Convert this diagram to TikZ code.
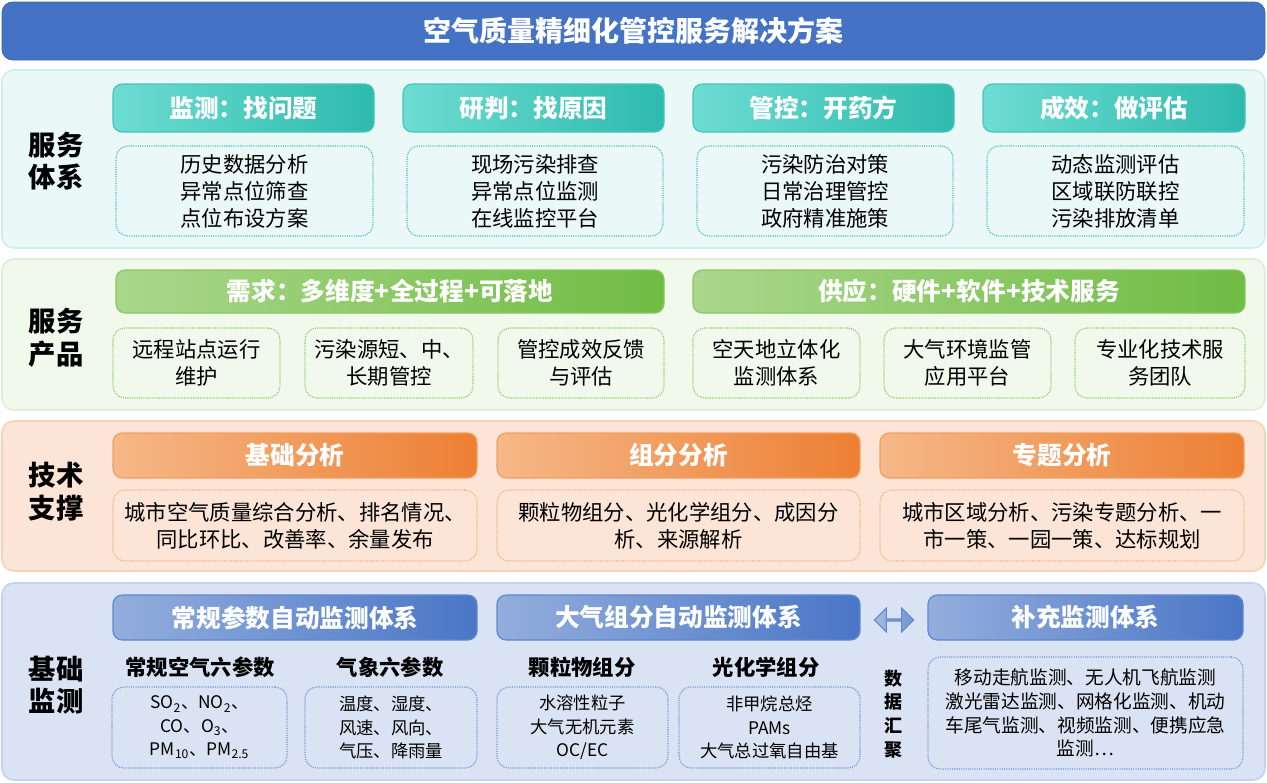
\documentclass[tikz,border=0pt]{standalone}
\usepackage{fontspec}
\setmainfont{Noto Sans CJK SC}
\usetikzlibrary{shapes.arrows}
\definecolor{titleblue}{HTML}{4472C4}
\definecolor{sAfill}{HTML}{EBF8F8}\definecolor{sAline}{HTML}{CDEEEC}
\definecolor{tealL}{HTML}{6EDCD2}\definecolor{tealR}{HTML}{2DBBAD}
\definecolor{tealLine}{HTML}{45C6B9}\definecolor{tealDot}{HTML}{40C0B8}
\definecolor{sBfill}{HTML}{F1F8EC}\definecolor{sBline}{HTML}{DDEFD4}
\definecolor{greenL}{HTML}{AAD78C}\definecolor{greenR}{HTML}{6FBC43}
\definecolor{greenLine}{HTML}{86C863}\definecolor{greenDot}{HTML}{8CCB68}
\definecolor{sCfill}{HTML}{FCE5D6}\definecolor{sCline}{HTML}{F7D2B8}
\definecolor{orL}{HTML}{F5B888}\definecolor{orR}{HTML}{ED7F33}
\definecolor{orLine}{HTML}{F0A062}\definecolor{orDot}{HTML}{F2AE7E}
\definecolor{sDfill}{HTML}{DAE3F3}\definecolor{sDline}{HTML}{C3D2EE}
\definecolor{blL}{HTML}{93AEDD}\definecolor{blR}{HTML}{4A76C6}
\definecolor{blLine}{HTML}{5F88CF}\definecolor{blDot}{HTML}{7095D8}
\newcommand\mkbox[7]{\node[#1, inner sep=0pt, align=center, minimum width={(#5-#3)*0.75pt}, minimum height={(#6-#4)*0.75pt}] (#2) at ({(#3+#5)/2},{(#4+#6)/2}) {#7};}
\tikzset{
  section/.style={fill=#1fill, draw=#1line, line width=1.2pt, rounded corners=9pt},
  hdr/.style 2 args={left color=#1, right color=#2, rounded corners=7pt, line width=0.9pt, text=white,
     font=\fontsize{18.5}{22}\selectfont\bfseries},
  dotbox/.style={draw=#1, line width=0.9pt, dash pattern=on 0.8pt off 0.9pt, rounded corners=9pt,
     font=\fontsize{16}{20.25}\selectfont},
  seclabel/.style={align=center, inner sep=0pt, font=\fontsize{20.5}{24.5}\selectfont\bfseries},
  subhdr/.style={inner sep=0pt, font=\fontsize{16}{20}\selectfont\bfseries},
  smalltxt/.style={font=\fontsize{13}{17.5}\selectfont},
}
\begin{document}
\begin{tikzpicture}[x=0.75pt,y=-0.75pt]
\useasboundingbox (0,0) rectangle (1267,782);
% title
\mkbox{fill=titleblue, draw=titleblue!90!black, line width=0.6pt, rounded corners=8pt, text=white, font=\fontsize{21}{25}\selectfont\bfseries}{T}{2}{2}{1265}{60}{空气质量精细化管控服务解决方案}
% ===== section 1
\mkbox{section=sA}{S1}{2}{70}{1265}{248}{}
\node[seclabel] (L1) at (56,161) {服务\\体系};
\mkbox{hdr={tealL}{tealR}, draw=tealLine}{H11}{113}{84}{374}{132}{监测：找问题}
\mkbox{hdr={tealL}{tealR}, draw=tealLine}{H12}{403}{84}{664}{132}{研判：找原因}
\mkbox{hdr={tealL}{tealR}, draw=tealLine}{H13}{693}{84}{954}{132}{管控：开药方}
\mkbox{hdr={tealL}{tealR}, draw=tealLine}{H14}{983}{84}{1245}{132}{成效：做评估}
\mkbox{dotbox=tealDot}{D11}{116}{146}{373}{236}{历史数据分析\\异常点位筛查\\点位布设方案}
\mkbox{dotbox=tealDot}{D12}{407}{146}{663}{236}{现场污染排查\\异常点位监测\\在线监控平台}
\mkbox{dotbox=tealDot}{D13}{697}{146}{953}{236}{污染防治对策\\日常治理管控\\政府精准施策}
\mkbox{dotbox=tealDot}{D14}{987}{146}{1244}{236}{动态监测评估\\区域联防联控\\污染排放清单}
% ===== section 2
\mkbox{section=sB}{S2}{2}{259}{1265}{410}{}
\node[seclabel] (L2) at (56,338) {服务\\产品};
\mkbox{hdr={greenL}{greenR}, draw=greenLine}{H21}{116}{270}{664}{313}{需求：多维度+全过程+可落地}
\mkbox{hdr={greenL}{greenR}, draw=greenLine}{H22}{693}{270}{1245}{313}{供应：硬件+软件+技术服务}
\mkbox{dotbox=greenDot}{D21}{113}{328}{280}{398}{远程站点运行\\维护}
\mkbox{dotbox=greenDot}{D22}{305}{328}{473}{398}{污染源短、中、\\长期管控}
\mkbox{dotbox=greenDot}{D23}{498}{328}{664}{398}{管控成效反馈\\与评估}
\mkbox{dotbox=greenDot}{D24}{693}{328}{860}{398}{空天地立体化\\监测体系}
\mkbox{dotbox=greenDot}{D25}{884}{328}{1051}{398}{大气环境监管\\应用平台}
\mkbox{dotbox=greenDot}{D26}{1075}{328}{1245}{398}{专业化技术服\\务团队}
% ===== section 3
\mkbox{section=sC}{S3}{2}{421}{1265}{571}{}
\node[seclabel] (L3) at (56,492) {技术\\支撑};
\mkbox{hdr={orL}{orR}, draw=orLine}{H31}{113}{433}{477}{478}{基础分析}
\mkbox{hdr={orL}{orR}, draw=orLine}{H32}{497}{433}{860}{478}{组分分析}
\mkbox{hdr={orL}{orR}, draw=orLine}{H33}{880}{433}{1244}{478}{专题分析}
\mkbox{dotbox=orDot}{D31}{113}{490}{477}{561}{城市空气质量综合分析、排名情况、\\同比环比、改善率、余量发布}
\mkbox{dotbox=orDot}{D32}{497}{490}{860}{561}{颗粒物组分、光化学组分、成因分\\析、来源解析}
\mkbox{dotbox=orDot}{D33}{880}{490}{1244}{561}{城市区域分析、污染专题分析、一\\市一策、一园一策、达标规划}
% ===== section 4
\mkbox{section=sD}{S4}{2}{583}{1265}{780}{}
\node[seclabel] (L4) at (56,685) {基础\\监测};
\mkbox{hdr={blL}{blR}, draw=blLine}{H41}{113}{595}{477}{640}{常规参数自动监测体系}
\mkbox{hdr={blL}{blR}, draw=blLine}{H42}{497}{595}{860}{640}{大气组分自动监测体系}
\mkbox{hdr={blL}{blR}, draw=blLine}{H43}{928}{595}{1243}{640}{补充监测体系}
\node[double arrow, double arrow head extend=4.5pt, minimum width=18pt, minimum height=29.5pt,
      inner sep=0pt, left color=blL!85!white, right color=blL!55!blR, draw=blLine, line width=0.8pt] (AR) at (894,620) {};
\node[subhdr] (T41) at (200,667) {常规空气六参数};
\node[subhdr] (T42) at (390,667) {气象六参数};
\node[subhdr] (T43) at (582,667) {颗粒物组分};
\node[subhdr] (T44) at (766,667) {光化学组分};
\mkbox{dotbox=blDot, smalltxt}{D41}{112}{687}{287}{768}{SO\textsubscript{2}、NO\textsubscript{2}、\\CO、O\textsubscript{3}、\\PM\textsubscript{10}、PM\textsubscript{2.5}}
\mkbox{dotbox=blDot, smalltxt}{D42}{305}{687}{477}{768}{温度、湿度、\\风速、风向、\\气压、降雨量}
\mkbox{dotbox=blDot, smalltxt}{D43}{497}{687}{668}{768}{水溶性粒子\\大气无机元素\\OC/EC}
\mkbox{dotbox=blDot, smalltxt}{D44}{679}{687}{860}{768}{非甲烷总烃\\PAMs\\大气总过氧自由基}
\node[align=center, inner sep=0pt, font=\fontsize{13.5}{17.8}\selectfont\bfseries] (DJ) at (893,714) {数\\据\\汇\\聚};
\mkbox{dotbox=blDot, font=\fontsize{14}{17.8}\selectfont}{D45}{928}{657}{1243}{769}{移动走航监测、无人机飞航监测\\激光雷达监测、网格化监测、机动\\车尾气监测、视频监测、便携应急\\监测…}
\end{tikzpicture}
\end{document}
